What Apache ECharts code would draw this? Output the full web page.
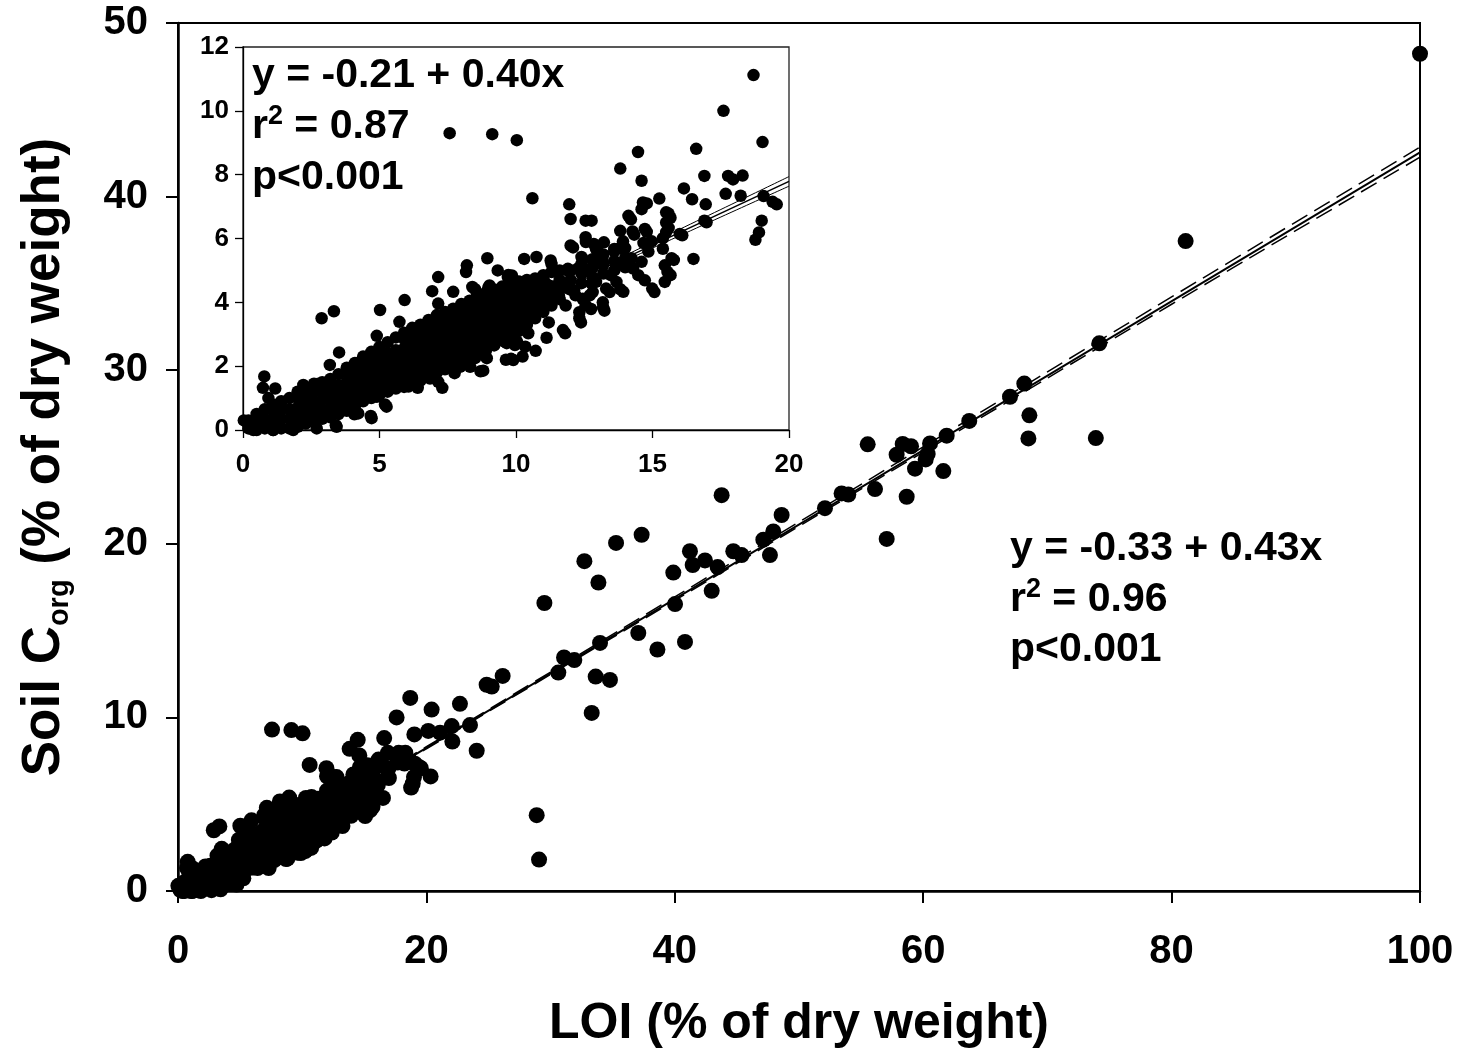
<!DOCTYPE html>
<html><head><meta charset="utf-8">
<script src="https://cdn.jsdelivr.net/npm/echarts@6/dist/echarts.min.js"></script>
<style>html,body{margin:0;padding:0;background:#fff}#c{width:1460px;height:1054px}</style>
</head><body><div id="c"></div>
<script>
// ---- data ----
// dense core of the cloud: one LOI column, several Corg values per column
const cloudLoi = [0.2,0.5,0.8,1.1,1.4,1.7,2.0,2.3,2.6,2.9,3.2,3.5,3.8,4.1,4.4,4.7,5.0,5.3,5.6,5.9,6.2,6.5,6.8,7.1,7.4,7.7,8.0,8.3,8.6,8.9,9.2,9.5,9.8,10.1,10.4,10.7,11.0,11.3,11.6,12.0,12.4,12.8,13.2,13.6,14.0];
const cloudCorg = [
 [0.05,0.3],[0.0,0.25,0.5],[0.05,0.35,0.65],[0.0,0.3,0.6,0.8],[0.05,0.35,0.65,0.9],[0.05,0.35,0.65,1.0],
 [0.1,0.4,0.7,1.0,1.2],[0.2,0.5,0.8,1.1,1.3],[0.3,0.6,0.9,1.2,1.45],[0.35,0.65,0.95,1.25,1.5],[0.4,0.7,1.0,1.3,1.6],
 [0.5,0.8,1.1,1.4,1.75],[0.6,0.9,1.2,1.5,1.8,1.95],[0.75,1.05,1.35,1.65,1.95,2.1],[0.9,1.2,1.5,1.8,2.1,2.3],
 [1.0,1.3,1.6,1.9,2.2,2.45],[1.1,1.4,1.7,2.0,2.3,2.6],[1.2,1.5,1.8,2.1,2.4,2.75],[1.3,1.6,1.9,2.2,2.5,2.9],
 [1.35,1.65,1.95,2.25,2.55,2.85,3.05],[1.45,1.75,2.05,2.35,2.65,2.95,3.2],[1.55,1.85,2.15,2.45,2.75,3.05,3.3],
 [1.7,2.0,2.3,2.6,2.9,3.2,3.45],[1.8,2.1,2.4,2.7,3.0,3.3,3.6],[1.9,2.2,2.5,2.8,3.1,3.4,3.7],
 [2.05,2.35,2.65,2.95,3.25,3.55,3.8],[2.15,2.45,2.75,3.05,3.35,3.65,3.95],[2.25,2.55,2.85,3.15,3.45,3.75,4.05],
 [2.4,2.7,3.0,3.3,3.6,3.9,4.15],[2.5,2.8,3.1,3.4,3.7,4.0,4.3],[2.65,2.95,3.25,3.55,3.85,4.15,4.4],
 [2.8,3.1,3.4,3.7,4.0,4.3,4.5],[2.95,3.25,3.55,3.85,4.15,4.4,4.6],[3.1,3.4,3.7,4.0,4.3,4.5,4.65],
 [3.3,3.6,3.9,4.2,4.5,4.7],[3.5,3.8,4.1,4.4,4.75],[3.7,4.0,4.3,4.6,4.85],[3.9,4.2,4.5,4.95],[4.1,4.4,4.7,5.0],
 [4.4,4.7,5.0],[4.6,4.9,5.2],[4.8,5.1,5.35],[4.9,5.2,5.5],[5.0,5.3,5.6],[5.1,5.4,5.7]
];
// individually visible points with LOI <= 20 (seen in inset and main plot)
const scatterPoints = [
 [18.7,11.12],[17.6,10.0],[7.57,9.3],[9.13,9.27],[10.03,9.08],[19.03,9.02],[16.6,8.81],[14.47,8.71],[13.82,8.19],[14.6,7.81],
 [16.9,7.96],[17.77,7.96],[17.95,7.85],[16.15,7.57],[17.68,7.4],[16.45,7.23],[16.95,7.07],[15.25,7.25],[14.65,7.13],[14.6,6.92],
 [10.6,7.26],[11.95,7.07],[12.0,6.61],[12.55,6.56],[12.77,6.56],[19.07,7.33],[19.4,7.15],[19.0,6.56],[18.9,6.19],[18.77,5.96],
 [16.9,6.56],[15.5,6.82],[15.5,6.5],[16.0,6.14],[16.5,5.36],[15.5,6.2],[14.27,6.22],[13.82,6.24],[14.12,6.71],[14.72,6.3],
 [15.7,5.38],[15.45,5.16],[15.55,4.95],[15.45,4.64],[14.99,4.43],[14.72,4.69],[13.82,4.41],[13.93,4.33],[13.19,3.84],[13.3,4.43],
 [12.77,4.59],[12.7,4.22],[12.55,3.91],[12.32,3.5],[11.72,3.13],[11.12,2.89],[10.45,3.03],[10.72,2.48],[10.34,2.61],[10.04,2.77],
 [10.24,2.3],[9.82,2.23],[9.63,2.2],[9.6,2.77],[8.7,1.84],[8.8,1.86],[12.85,5.83],[12.55,6.04],[12.4,5.42],[12.0,5.78],
 [12.93,5.67],[13.22,5.88],[13.6,5.67],[13.15,5.36],[11.9,5.05],[12.25,5.05],[11.27,5.31],[10.75,5.42],[10.3,5.36],[8.95,5.38],
 [9.33,5.0],[8.2,5.16],[8.17,4.95],[7.15,4.79],[6.93,4.35],[7.15,3.96],[5.92,4.07],[7.7,4.33],[8.4,4.48],[8.57,4.22],
 [9.03,4.53],[9.25,4.33],[9.7,4.79],[9.85,4.84],[10.15,4.64],[10.52,4.53],[10.94,4.53],[11.5,4.53],[11.05,4.64],[11.92,4.43],
 [12.18,4.22],[5.02,3.76],[5.73,3.39],[4.9,2.95],[3.52,2.43],[2.88,3.5],[3.33,3.72],[3.18,2.04],[0.78,1.68],[0.73,1.32],
 [1.18,1.3],[0.93,1.0],[0.03,0.3],[3.4,0.15],[4.68,0.44],[5.2,0.8],[6.85,1.61],[7.3,1.32],[6.4,1.32],[5.95,1.42],
 [8.05,2.04],[7.75,1.78],[8.5,2.25],[8.05,2.67],[8.8,2.56],[7.3,2.56],[6.6,2.04],[6.25,1.84],[5.43,1.42],[4.08,0.49],[2.65,0.38],
 [18.3,7.97],[18.23,7.34],[19.55,7.07],[16.98,6.51],[16.09,6.1],[14.79,7.1],[15.59,6.78],[15.66,6.65],[14.21,6.6],[15.59,6.33],
 [14.79,6.21],[14.33,6.12],[15.38,6.01],[14.97,5.91],[14.67,5.86],[13.92,5.91],[13.8,5.7],[15.38,5.68],[14.85,5.59],[15.78,5.33],
 [15.66,4.85],[15.07,4.32],[13.43,4.32],[11.8,3.03],[12.09,5.72],[12.56,5.89],[13.0,5.59],[12.44,5.35],[11.3,5.2],[11.94,4.96],
 [12.75,5.06],[13.18,5.17],[13.68,5.17],[13.47,4.85],[13.68,4.64],[14.23,5.38],[14.29,5.06],[14.48,4.85],[14.6,5.27],[12.93,4.64],
 [12.81,4.32],[12.44,4.11],[11.94,4.53],[12.13,4.38],[11.2,4.53],[11.57,4.22],[11.82,3.9],[12.32,3.69],[12.75,3.79],[13.18,4.0],
 [11.2,3.37],[12.38,3.37],[13.24,3.74],
 [9.72,4.86],[8.99,4.47],[8.5,4.41],[2.21,1.41],[2.72,1.44],[4.16,2.09],[4.53,2.25],[4.71,2.4],[7.15,1.51],[6.06,1.36],
 [7.95,1.98],[8.32,1.98],[9.66,2.72],[9.96,2.66],[9.9,2.19],[8.93,2.25],[4.71,0.37],[5.26,0.73],[3.43,0.1],[0.16,0.23],
 [4.9,1.04],[4.22,0.52],[2.7,0.05],[1.84,0.0],[1.11,0.0],[0.38,0.0]
];
// points with LOI > 20 (main plot only)
const highLoiPoints = [
 [20.42,10.45],[20.15,9.22],[21.1,9.12],[22.04,9.5],[22.09,8.61],[22.7,10.78],[23.51,9.56],[24.05,8.08],[24.85,11.88],[25.26,11.78],
 [26.14,12.39],[20.34,6.6],[28.88,4.37],[29.07,1.81],[29.5,16.59],[30.62,12.58],[31.08,13.45],[31.91,13.3],[32.72,19.0],[33.31,10.26],
 [33.63,12.35],[33.85,17.77],[33.98,14.29],[34.78,12.16],[35.27,20.05],[37.06,14.86],[37.33,20.52],[38.6,13.91],[39.88,18.34],[40.02,16.53],
 [40.82,14.35],[41.22,19.57],[41.44,18.78],[42.43,19.04],[42.97,17.29],[43.45,18.66],[43.77,22.8],[44.71,19.57],[45.38,19.35],[47.13,20.24],
 [47.66,19.35],[47.93,20.71],[48.6,21.66],[52.09,22.05],[53.43,22.9],[53.97,22.84],[55.53,25.73],[56.12,23.15],[57.06,20.28],[57.86,25.13],
 [58.35,25.75],[58.67,22.71],[59.02,25.62],[59.34,24.33],[60.2,24.86],[60.36,25.18],[60.55,25.78],[61.62,24.19],[61.89,26.23],[63.71,27.08],
 [66.99,28.47],[68.14,29.23],[68.55,27.4],[68.47,26.07],[73.9,26.09],[74.18,31.55],[81.13,37.44],[100,48.23]
];
// regression lines and confidence bands
const mainLineX = [0, 100];
const mainLineY = [-0.33, 42.55];
const mainBandX = [0, 20, 40, 60, 80, 100];
const mainBandUpper = [-0.21, 8.31, 16.94, 25.58, 34.22, 42.85];
const mainBandLower = [-0.45, 8.19, 16.74, 25.28, 33.80, 42.27];
const insetLineX = [0, 20];
const insetLineY = [-0.21, 7.79];
const insetBandX = [0, 5, 10, 15, 20];
const insetBandUpper = [-0.14, 1.83, 3.84, 5.88, 7.94];
const insetBandLower = [-0.28, 1.75, 3.74, 5.70, 7.64];
// tick settings
const mainXTicks = {min: 0, max: 100, interval: 20};
const mainYTicks = {min: 0, max: 50, interval: 10};
const insetXTicks = {min: 0, max: 20, interval: 5};
const insetYTicks = {min: 0, max: 12, interval: 2};

// ---- build ----
const cloudPoints = [];
cloudLoi.forEach((x, i) => cloudCorg[i].forEach(y => cloudPoints.push([x, y])));
const allPoints = cloudPoints.concat(scatterPoints, highLoiPoints);
const insetPoints = allPoints.filter(p => p[0] <= 20 && p[1] <= 12);
const zip = (xs, ys) => xs.map((x, i) => [x, ys[i]]);

const F = '"Liberation Sans", Arial, sans-serif';
const chart = echarts.init(document.getElementById('c'), null, {renderer: 'canvas'});

function axisCfg(grid, t, o) {
  return Object.assign({
    gridIndex: grid, type: 'value', min: t.min, max: t.max, interval: t.interval,
    axisLine: {show: true, onZero: false, lineStyle: {color: '#000', width: o.lw}},
    axisTick: {show: true, inside: false, length: o.tick, lineStyle: {color: '#000', width: o.tw}},
    axisLabel: {color: '#000', fontSize: o.fs, fontWeight: 'bold', fontFamily: F, margin: o.margin},
    splitLine: {show: false}
  }, o.extra || {});
}

const eqRich = {
  a: {fontSize: 41, fontWeight: 'bold', fontFamily: F, color: '#000', lineHeight: 48},
  s: {fontSize: 27, fontWeight: 'bold', fontFamily: F, color: '#000', lineHeight: 26, verticalAlign: 'top'}
};
function eqText(x, y, txt) {
  return {type: 'text', x: x, y: y, z: 100, style: {text: txt, rich: eqRich, fill: '#000', verticalAlign: 'middle'}};
}

const option = {
  animation: false,
  backgroundColor: '#fff',
  grid: [
    {left: 178, top: 23, width: 1242, height: 877, show: true, borderColor: '#000', borderWidth: 2, backgroundColor: 'transparent'},
    {left: 243, top: 47, width: 546, height: 383, show: true, borderColor: '#222', borderWidth: 1.3, backgroundColor: '#fff'}
  ],
  xAxis: [
    axisCfg(0, mainXTicks, {lw: 2.5, tick: 12, tw: 2, fs: 40, margin: 41, extra: {
      name: 'LOI (% of dry weight)', nameLocation: 'middle', nameGap: 108,
      nameTextStyle: {color: '#000', fontSize: 50, fontWeight: 'bold', fontFamily: F}}}),
    axisCfg(1, insetXTicks, {lw: 1.3, tick: 8, tw: 1.3, fs: 26, margin: 22})
  ],
  yAxis: [
    axisCfg(0, mainYTicks, {lw: 2.5, tick: 12, tw: 2, fs: 40, margin: 30, extra: {
      name: '{a|Soil C}{b|org}{a| (% of dry weight)}', nameLocation: 'middle', nameGap: 104,
      nameTextStyle: {color: '#000', fontFamily: F, rich: {
        a: {fontSize: 53, fontWeight: 'bold', fontFamily: F, color: '#000', lineHeight: 60},
        b: {fontSize: 29, fontWeight: 'bold', fontFamily: F, color: '#000', lineHeight: 12, verticalAlign: 'bottom'}
      }}}}),
    axisCfg(1, insetYTicks, {lw: 1.3, tick: 8, tw: 1.3, fs: 26, margin: 14})
  ],
  series: [
    {type: 'line', xAxisIndex: 0, yAxisIndex: 0, data: zip(mainLineX, mainLineY), showSymbol: false, symbol: 'none',
     lineStyle: {color: '#000', width: 2}, z: 2, silent: true},
    {type: 'line', xAxisIndex: 0, yAxisIndex: 0, data: zip(mainBandX, mainBandUpper), showSymbol: false, symbol: 'none', smooth: true,
     lineStyle: {color: '#000', width: 1.5, type: [18, 8]}, z: 2, silent: true},
    {type: 'line', xAxisIndex: 0, yAxisIndex: 0, data: zip(mainBandX, mainBandLower), showSymbol: false, symbol: 'none', smooth: true,
     lineStyle: {color: '#000', width: 1.5, type: [18, 8]}, z: 2, silent: true},
    {type: 'scatter', xAxisIndex: 0, yAxisIndex: 0, data: allPoints, symbol: 'circle', symbolSize: 16, clip: false,
     itemStyle: {color: '#000', opacity: 1}, z: 3, silent: true},
    {type: 'line', xAxisIndex: 1, yAxisIndex: 1, data: zip(insetLineX, insetLineY), showSymbol: false, symbol: 'none',
     lineStyle: {color: '#000', width: 1.5}, z: 5, silent: true},
    {type: 'line', xAxisIndex: 1, yAxisIndex: 1, data: zip(insetBandX, insetBandUpper), showSymbol: false, symbol: 'none', smooth: true,
     lineStyle: {color: '#000', width: 1}, z: 5, silent: true},
    {type: 'line', xAxisIndex: 1, yAxisIndex: 1, data: zip(insetBandX, insetBandLower), showSymbol: false, symbol: 'none', smooth: true,
     lineStyle: {color: '#000', width: 1}, z: 5, silent: true},
    {type: 'scatter', xAxisIndex: 1, yAxisIndex: 1, data: insetPoints, symbol: 'circle', symbolSize: 12.5, clip: false,
     itemStyle: {color: '#000', opacity: 1}, z: 6, silent: true}
  ],
  graphic: [
    eqText(1010, 549, '{a|y = -0.33 + 0.43x}'),
    eqText(1010, 600, '{a|r}{s|2}{a| = 0.96}'),
    eqText(1010, 650, '{a|p<0.001}'),
    eqText(252, 76, '{a|y = -0.21 + 0.40x}'),
    eqText(252, 127, '{a|r}{s|2}{a| = 0.87}'),
    eqText(252, 178, '{a|p<0.001}')
  ]
};
chart.setOption(option);
</script></body></html>
